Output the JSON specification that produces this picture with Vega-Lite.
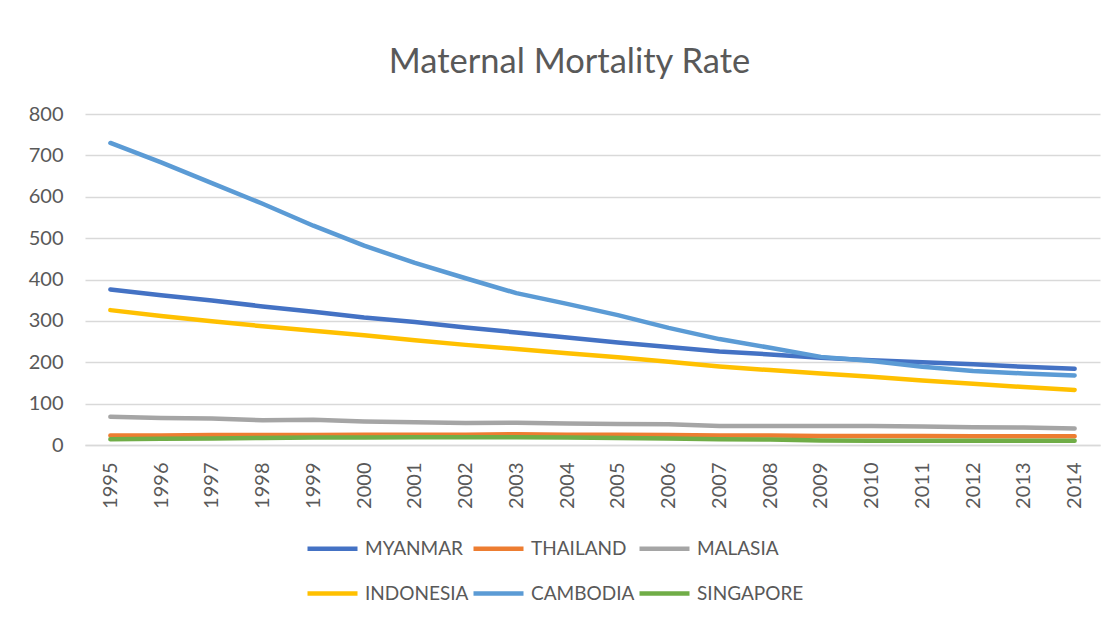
{
  "$schema": "https://vega.github.io/schema/vega-lite/v6.json",
  "autosize": {"type": "none"},
  "width": 1015,
  "height": 331,
  "padding": {"left": 85, "top": 114, "right": 15, "bottom": 176},
  "background": "white",
  "title": {
    "text": "Maternal Mortality Rate",
    "font": "Lato",
    "fontSize": 34.5,
    "fontWeight": "normal",
    "color": "#595959",
    "anchor": "middle",
    "frame": "group",
    "dx": -23,
    "offset": 24
  },
  "config": {
    "view": {"stroke": null},
    "axis": {
      "labelFont": "Lato",
      "labelFontSize": 20,
      "labelColor": "#595959",
      "gridColor": "#d9d9d9",
      "gridWidth": 1.5,
      "ticks": false,
      "domain": false,
      "title": null
    },
    "legend": {
      "labelFont": "Lato",
      "labelFontSize": 19,
      "labelColor": "#595959"
    }
  },
  "data": {
    "values": [
      {"year": "1995", "country": "MYANMAR", "value": 376},
      {"year": "1996", "country": "MYANMAR", "value": 362},
      {"year": "1997", "country": "MYANMAR", "value": 349},
      {"year": "1998", "country": "MYANMAR", "value": 335},
      {"year": "1999", "country": "MYANMAR", "value": 322},
      {"year": "2000", "country": "MYANMAR", "value": 308},
      {"year": "2001", "country": "MYANMAR", "value": 297},
      {"year": "2002", "country": "MYANMAR", "value": 284},
      {"year": "2003", "country": "MYANMAR", "value": 272},
      {"year": "2004", "country": "MYANMAR", "value": 260},
      {"year": "2005", "country": "MYANMAR", "value": 248},
      {"year": "2006", "country": "MYANMAR", "value": 237},
      {"year": "2007", "country": "MYANMAR", "value": 226},
      {"year": "2008", "country": "MYANMAR", "value": 219},
      {"year": "2009", "country": "MYANMAR", "value": 211},
      {"year": "2010", "country": "MYANMAR", "value": 205},
      {"year": "2011", "country": "MYANMAR", "value": 200},
      {"year": "2012", "country": "MYANMAR", "value": 195},
      {"year": "2013", "country": "MYANMAR", "value": 189},
      {"year": "2014", "country": "MYANMAR", "value": 184},
      {"year": "1995", "country": "THAILAND", "value": 23},
      {"year": "1996", "country": "THAILAND", "value": 23},
      {"year": "1997", "country": "THAILAND", "value": 24},
      {"year": "1998", "country": "THAILAND", "value": 24},
      {"year": "1999", "country": "THAILAND", "value": 24},
      {"year": "2000", "country": "THAILAND", "value": 25},
      {"year": "2001", "country": "THAILAND", "value": 25},
      {"year": "2002", "country": "THAILAND", "value": 25},
      {"year": "2003", "country": "THAILAND", "value": 26},
      {"year": "2004", "country": "THAILAND", "value": 25},
      {"year": "2005", "country": "THAILAND", "value": 25},
      {"year": "2006", "country": "THAILAND", "value": 24},
      {"year": "2007", "country": "THAILAND", "value": 23},
      {"year": "2008", "country": "THAILAND", "value": 23},
      {"year": "2009", "country": "THAILAND", "value": 22},
      {"year": "2010", "country": "THAILAND", "value": 22},
      {"year": "2011", "country": "THAILAND", "value": 22},
      {"year": "2012", "country": "THAILAND", "value": 21},
      {"year": "2013", "country": "THAILAND", "value": 21},
      {"year": "2014", "country": "THAILAND", "value": 21},
      {"year": "1995", "country": "MALASIA", "value": 68},
      {"year": "1996", "country": "MALASIA", "value": 65},
      {"year": "1997", "country": "MALASIA", "value": 64},
      {"year": "1998", "country": "MALASIA", "value": 60},
      {"year": "1999", "country": "MALASIA", "value": 61},
      {"year": "2000", "country": "MALASIA", "value": 57},
      {"year": "2001", "country": "MALASIA", "value": 55},
      {"year": "2002", "country": "MALASIA", "value": 53},
      {"year": "2003", "country": "MALASIA", "value": 54},
      {"year": "2004", "country": "MALASIA", "value": 52},
      {"year": "2005", "country": "MALASIA", "value": 51},
      {"year": "2006", "country": "MALASIA", "value": 50},
      {"year": "2007", "country": "MALASIA", "value": 46},
      {"year": "2008", "country": "MALASIA", "value": 46},
      {"year": "2009", "country": "MALASIA", "value": 46},
      {"year": "2010", "country": "MALASIA", "value": 46},
      {"year": "2011", "country": "MALASIA", "value": 45},
      {"year": "2012", "country": "MALASIA", "value": 43},
      {"year": "2013", "country": "MALASIA", "value": 42},
      {"year": "2014", "country": "MALASIA", "value": 40},
      {"year": "1995", "country": "INDONESIA", "value": 326},
      {"year": "1996", "country": "INDONESIA", "value": 312},
      {"year": "1997", "country": "INDONESIA", "value": 299},
      {"year": "1998", "country": "INDONESIA", "value": 287},
      {"year": "1999", "country": "INDONESIA", "value": 276},
      {"year": "2000", "country": "INDONESIA", "value": 265},
      {"year": "2001", "country": "INDONESIA", "value": 253},
      {"year": "2002", "country": "INDONESIA", "value": 242},
      {"year": "2003", "country": "INDONESIA", "value": 232},
      {"year": "2004", "country": "INDONESIA", "value": 222},
      {"year": "2005", "country": "INDONESIA", "value": 212},
      {"year": "2006", "country": "INDONESIA", "value": 201},
      {"year": "2007", "country": "INDONESIA", "value": 190},
      {"year": "2008", "country": "INDONESIA", "value": 181},
      {"year": "2009", "country": "INDONESIA", "value": 173},
      {"year": "2010", "country": "INDONESIA", "value": 165},
      {"year": "2011", "country": "INDONESIA", "value": 156},
      {"year": "2012", "country": "INDONESIA", "value": 148},
      {"year": "2013", "country": "INDONESIA", "value": 140},
      {"year": "2014", "country": "INDONESIA", "value": 133},
      {"year": "1995", "country": "CAMBODIA", "value": 730},
      {"year": "1996", "country": "CAMBODIA", "value": 683},
      {"year": "1997", "country": "CAMBODIA", "value": 633},
      {"year": "1998", "country": "CAMBODIA", "value": 583},
      {"year": "1999", "country": "CAMBODIA", "value": 530},
      {"year": "2000", "country": "CAMBODIA", "value": 482},
      {"year": "2001", "country": "CAMBODIA", "value": 440},
      {"year": "2002", "country": "CAMBODIA", "value": 403},
      {"year": "2003", "country": "CAMBODIA", "value": 367},
      {"year": "2004", "country": "CAMBODIA", "value": 341},
      {"year": "2005", "country": "CAMBODIA", "value": 314},
      {"year": "2006", "country": "CAMBODIA", "value": 283},
      {"year": "2007", "country": "CAMBODIA", "value": 256},
      {"year": "2008", "country": "CAMBODIA", "value": 235},
      {"year": "2009", "country": "CAMBODIA", "value": 213},
      {"year": "2010", "country": "CAMBODIA", "value": 203},
      {"year": "2011", "country": "CAMBODIA", "value": 189},
      {"year": "2012", "country": "CAMBODIA", "value": 179},
      {"year": "2013", "country": "CAMBODIA", "value": 173},
      {"year": "2014", "country": "CAMBODIA", "value": 168},
      {"year": "1995", "country": "SINGAPORE", "value": 14},
      {"year": "1996", "country": "SINGAPORE", "value": 15},
      {"year": "1997", "country": "SINGAPORE", "value": 16},
      {"year": "1998", "country": "SINGAPORE", "value": 17},
      {"year": "1999", "country": "SINGAPORE", "value": 18},
      {"year": "2000", "country": "SINGAPORE", "value": 18},
      {"year": "2001", "country": "SINGAPORE", "value": 19},
      {"year": "2002", "country": "SINGAPORE", "value": 19},
      {"year": "2003", "country": "SINGAPORE", "value": 19},
      {"year": "2004", "country": "SINGAPORE", "value": 18},
      {"year": "2005", "country": "SINGAPORE", "value": 17},
      {"year": "2006", "country": "SINGAPORE", "value": 16},
      {"year": "2007", "country": "SINGAPORE", "value": 14},
      {"year": "2008", "country": "SINGAPORE", "value": 13},
      {"year": "2009", "country": "SINGAPORE", "value": 11},
      {"year": "2010", "country": "SINGAPORE", "value": 10},
      {"year": "2011", "country": "SINGAPORE", "value": 10},
      {"year": "2012", "country": "SINGAPORE", "value": 10},
      {"year": "2013", "country": "SINGAPORE", "value": 10},
      {"year": "2014", "country": "SINGAPORE", "value": 10}
    ]
  },
  "mark": {"type": "line", "strokeWidth": 4.5, "strokeCap": "round", "strokeJoin": "round"},
  "encoding": {
    "x": {
      "field": "year",
      "type": "ordinal",
      "scale": {"padding": 0.5},
      "axis": {
        "labelAngle": -90,
        "labelPadding": 17,
        "grid": false,
        "domain": true,
        "domainColor": "#d9d9d9",
        "domainWidth": 1.5
      }
    },
    "y": {
      "field": "value",
      "type": "quantitative",
      "scale": {"domain": [0, 800], "nice": false},
      "axis": {"values": [0, 100, 200, 300, 400, 500, 600, 700, 800], "labelPadding": 22, "grid": true}
    },
    "color": {
      "field": "country",
      "type": "nominal",
      "scale": {
        "domain": ["MYANMAR", "THAILAND", "MALASIA", "INDONESIA", "CAMBODIA", "SINGAPORE"],
        "range": ["#4472C4", "#ED7D31", "#A5A5A5", "#FFC000", "#5B9BD5", "#70AD47"]
      },
      "legend": {
        "title": null,
        "orient": "none",
        "legendX": 220,
        "legendY": 407,
        "direction": "horizontal",
        "columns": 3,
        "symbolType": "stroke",
        "symbolSize": 2500,
        "symbolStrokeWidth": 4.5,
        "labelOffset": 5,
        "columnPadding": -5,
        "rowPadding": 7
      }
    }
  }
}
